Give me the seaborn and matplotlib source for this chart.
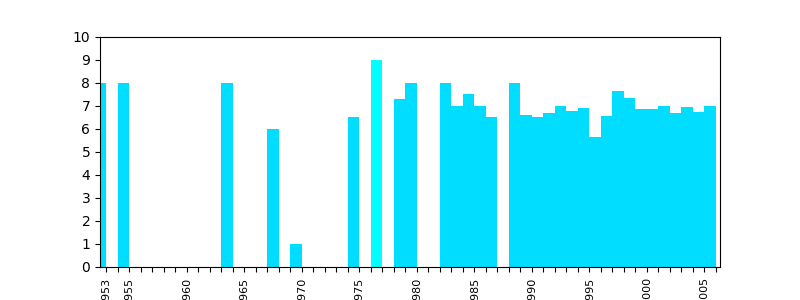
import matplotlib
matplotlib.use("Agg")
import matplotlib.pyplot as plt
import seaborn as sns
import pandas as pd

# Start year of each bar (bar covers [year, year+1])
years = [1952, 1954, 1963, 1967, 1969, 1974, 1976, 1978, 1979,
         1982, 1983, 1984, 1985, 1986,
         1988, 1989, 1990, 1991, 1992, 1993, 1994, 1995, 1996,
         1997, 1998, 1999, 2000, 2001, 2002, 2003, 2004, 2005]
values = [8, 8, 8, 6, 1, 6.5, 9, 7.3, 8,
          8, 7, 7.5, 7, 6.5,
          8, 6.6, 6.5, 6.7, 7.0, 6.8, 6.9, 5.65, 6.55,
          7.65, 7.35, 6.85, 6.85, 7.0, 6.7, 6.95, 6.75, 7.0]
groups = ["main"] * 6 + ["highlight"] + ["main"] * 25

tick_years = list(range(1953, 2007))
labelled_years = [1953, 1955, 1960, 1965, 1970, 1975, 1980, 1985, 1990, 1995, 2000, 2005]

df = pd.DataFrame({"year": years, "value": values, "group": groups})

fig, ax = plt.subplots(figsize=(8, 3), dpi=100)
sns.histplot(data=df, x="year", weights="value", hue="group",
             bins=list(range(1952, 2007)), multiple="layer",
             palette={"main": "#00ddff", "highlight": "#00ffff"},
             alpha=1, linewidth=0, legend=False, ax=ax)

ax.set_xlim(1952.46, 2006.35)
ax.set_ylim(0, 10)
ax.set_yticks(range(0, 11))
ax.set_xticks(tick_years)
ax.set_xticklabels([str(y) if y in labelled_years else "" for y in tick_years],
                   rotation=90, fontsize=8)
ax.set_xlabel("")
ax.set_ylabel("")
fig.subplots_adjust(left=0.125, right=0.9, top=0.877, bottom=0.11)
fig.savefig("out.png", dpi=100)
